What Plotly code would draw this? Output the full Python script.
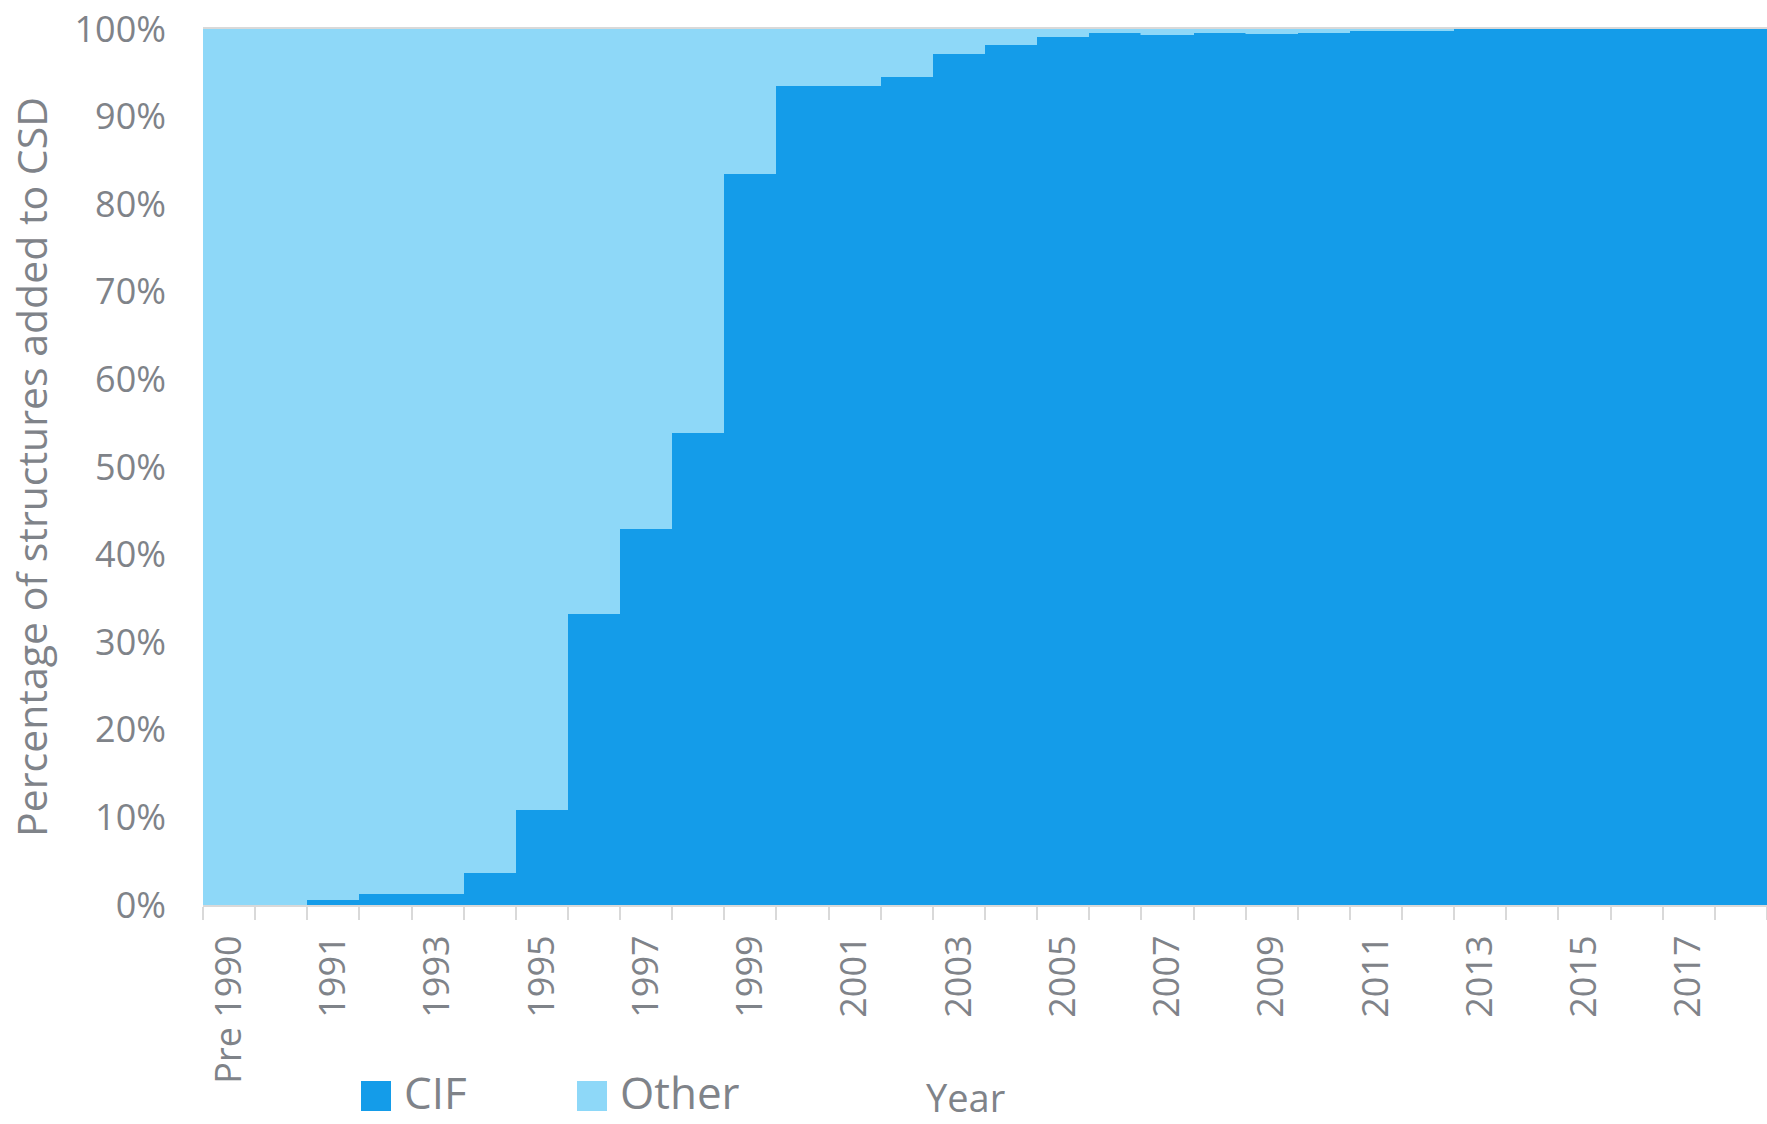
import plotly.graph_objects as go

categories = ["Pre 1990"] + [str(y) for y in range(1990, 2019)]

cif_pct = [0, 0, 0.6, 1.3, 1.3, 3.7, 10.9, 33.2, 42.9, 53.9,
           83.5, 93.5, 93.5, 94.5, 97.1, 98.2, 99.05, 99.5, 99.3, 99.5,
           99.4, 99.6, 99.8, 99.8, 99.95, 99.95, 99.95, 99.95, 99.95, 99.95]
other_pct = [100, 100, 99.4, 98.7, 98.7, 96.3, 89.1, 66.8, 57.1, 46.1,
             16.5, 6.5, 6.5, 5.5, 2.9, 1.8, 0.95, 0.5, 0.7, 0.5,
             0.6, 0.4, 0.2, 0.2, 0.05, 0.05, 0.05, 0.05, 0.05, 0.05]

tick_text = [c if i % 2 == 0 else "" for i, c in enumerate(categories)]

CIF_COLOR = "#149CE9"
OTHER_COLOR = "#8ED8F8"
TEXT = "#7F8389"
AXIS = "#D9D9D9"
FONT = "Open Sans"

fig = go.Figure()
fig.add_trace(go.Bar(x=categories, y=cif_pct, name="CIF",
                     marker=dict(color=CIF_COLOR, line=dict(color=CIF_COLOR, width=0.5)),
                     showlegend=False))
fig.add_trace(go.Bar(x=categories, y=other_pct, name="Other",
                     marker=dict(color=OTHER_COLOR, line=dict(color=OTHER_COLOR, width=0.5)),
                     showlegend=False))

W, H = 1767, 1124
L, R, T, B = 203, 0, 29, 219
pw, ph = W - L - R, H - T - B

def px_x(p):
    return (p - L) / pw

def px_y(p):
    return (H - B - p) / ph

shapes = []
annotations = []
legend_items = [("CIF", CIF_COLOR, 361), ("Other", OTHER_COLOR, 577)]
for name, col, x0 in legend_items:
    shapes.append(dict(type="rect", xref="paper", yref="paper",
                       x0=px_x(x0), x1=px_x(x0 + 30), y0=px_y(1111), y1=px_y(1081),
                       fillcolor=col, line=dict(width=0)))
    annotations.append(dict(text=name, xref="paper", yref="paper",
                            x=px_x(x0 + 42), y=px_y(1092), xanchor="left", yanchor="middle",
                            showarrow=False, borderpad=0,
                            font=dict(family=FONT, size=44, color=TEXT)))

annotations.append(dict(text="Year", xref="paper", yref="paper",
                        x=px_x(965), y=px_y(1097), xanchor="center", yanchor="middle",
                        showarrow=False, borderpad=0,
                        font=dict(family=FONT, size=38, color=TEXT)))

fig.update_layout(
    width=W, height=H,
    margin=dict(l=L, r=R, t=T, b=B, autoexpand=False),
    paper_bgcolor="white", plot_bgcolor="white",
    barmode="stack", bargap=0,
    font=dict(family=FONT, color=TEXT),
    shapes=shapes, annotations=annotations,
    xaxis=dict(
        type="category",
        tickmode="array", tickvals=categories, ticktext=tick_text,
        tickson="boundaries", ticks="outside", ticklen=13, tickwidth=2, tickcolor=AXIS,
        tickangle=-90, tickfont=dict(family=FONT, size=36, color=TEXT),
        ticklabelstandoff=14,
        showline=True, linecolor=AXIS, linewidth=2, mirror=True,
        showgrid=False, automargin=False,
    ),
    yaxis=dict(
        range=[0, 100], dtick=10, ticksuffix="%",
        tickfont=dict(family=FONT, size=36, color=TEXT),
        ticks="", ticklabelstandoff=36,
        showgrid=False, zeroline=False, showline=False,
        title=dict(text="Percentage of structures added to CSD",
                   font=dict(family=FONT, size=41, color=TEXT), standoff=14),
        automargin=False,
    ),
)

fig.write_html("out.html")
